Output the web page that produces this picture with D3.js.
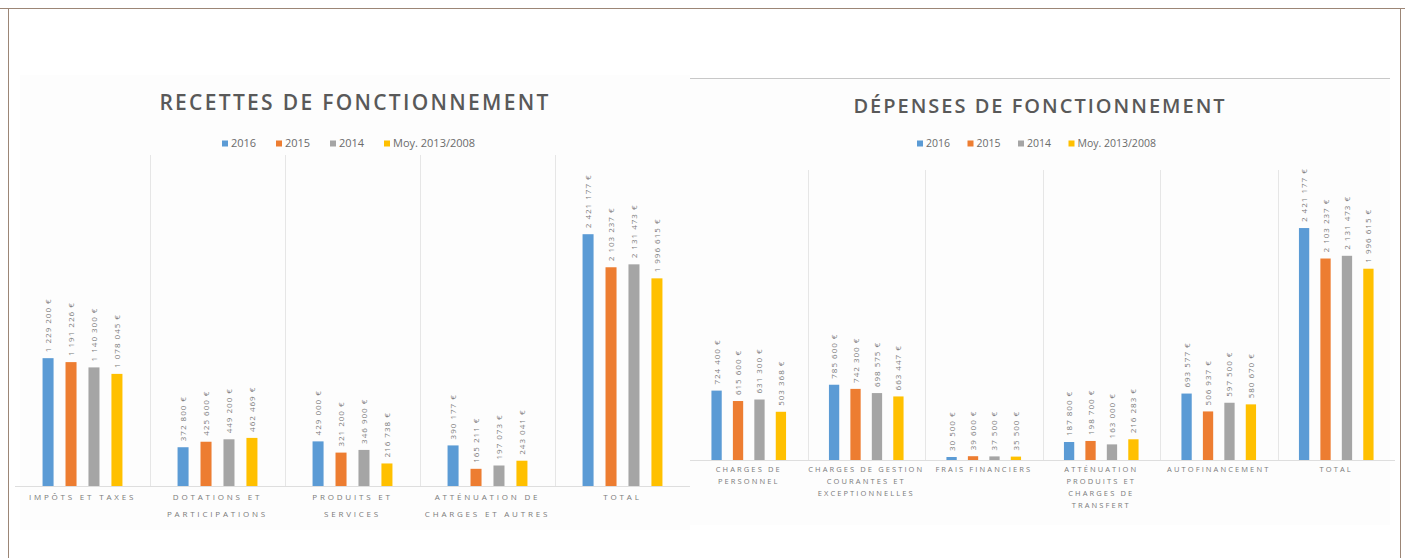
<!DOCTYPE html>
<html><head><meta charset="utf-8">
<script src="https://cdn.jsdelivr.net/npm/d3@7"></script>
<style>
html,body{margin:0;padding:0;background:#fff;}
svg{display:block;}
</style></head>
<body>
<svg id="c" width="1405" height="558"></svg>
<script>
const series = ["2016", "2015", "2014", "Moy. 2013/2008"];
const colors = ["#5B9BD5", "#ED7D31", "#A5A5A5", "#FFC000"];

const recCategories = [["IMPÔTS ET TAXES"], ["DOTATIONS ET", "PARTICIPATIONS"], ["PRODUITS ET", "SERVICES"], ["ATTÉNUATION DE", "CHARGES ET AUTRES"], ["TOTAL"]];
const rec2016 = [1229200, 372800, 429000, 390177, 2421177];
const rec2015 = [1191226, 425600, 321200, 165211, 2103237];
const rec2014 = [1140300, 449200, 346900, 197073, 2131473];
const recMoy  = [1078045, 462469, 216738, 243041, 1996615];

const depCategories = [["CHARGES DE", "PERSONNEL"], ["CHARGES DE GESTION", "COURANTES ET", "EXCEPTIONNELLES"], ["FRAIS FINANCIERS"], ["ATTÉNUATION", "PRODUITS ET", "CHARGES DE", "TRANSFERT"], ["AUTOFINANCEMENT"], ["TOTAL"]];
const dep2016 = [724400, 785600, 30500, 187800, 693577, 2421177];
const dep2015 = [615600, 742300, 39600, 198700, 506937, 2103237];
const dep2014 = [631300, 698575, 37500, 163000, 597500, 2131473];
const depMoy  = [503368, 663447, 35500, 216283, 580670, 1996615];

const fmt = v => d3.format(",")(v).replace(/,/g, " ") + " €";
const svg = d3.select("#c");

// outer frame
svg.append("line").attr("x1",0).attr("x2",1405).attr("y1",8.5).attr("y2",8.5).attr("stroke","#9c8676").attr("stroke-width",1);
svg.append("line").attr("x1",8.5).attr("x2",8.5).attr("y1",8).attr("y2",558).attr("stroke","#9c8676").attr("stroke-width",1);
svg.append("line").attr("x1",1400.5).attr("x2",1400.5).attr("y1",8).attr("y2",558).attr("stroke","#9c8676").attr("stroke-width",1);

function chart(opt) {
  const g = svg.append("g");
  g.append("rect").attr("x",opt.px).attr("y",opt.py).attr("width",opt.pw).attr("height",opt.ph).attr("fill","#fdfdfd");
  if (opt.topLine) g.append("line").attr("x1",opt.px).attr("x2",opt.px+opt.pw).attr("y1",opt.py+0.5).attr("y2",opt.py+0.5).attr("stroke","#c8c8c8");
  g.append("text").attr("x",opt.titleX).attr("y",opt.titleY).attr("text-anchor","middle")
    .attr("font-family","Open Sans").attr("font-weight",600).attr("font-size",opt.titleSize).attr("letter-spacing",opt.titleLs)
    .attr("fill","#595959").text(opt.title);
  // legend
  let lx = opt.legX;
  series.forEach((s,i)=>{
    g.append("rect").attr("x",lx).attr("y",opt.legY-6.5).attr("width",6).attr("height",6).attr("fill",colors[i]);
    g.append("text").attr("x",lx+9).attr("y",opt.legY).attr("font-family","Open Sans").attr("font-size",opt.legSize).attr("fill","#6b6b6b").text(s);
    lx += opt.legStep;
  });
  const x = d3.scaleBand().domain(d3.range(opt.cats.length)).range([opt.x0, opt.x1]).padding(0);
  const xi = d3.scaleBand().domain(d3.range(4)).range([0, x.bandwidth()]).paddingInner(opt.pin).paddingOuter(opt.pout);
  const y = d3.scaleLinear().domain([0, 3000000]).range([opt.base, opt.top]);
  // separators
  x.domain().slice(1).forEach(i=>{
    g.append("line").attr("x1",Math.round(x(i))+0.5).attr("x2",Math.round(x(i))+0.5).attr("y1",opt.sepTop).attr("y2",opt.base)
      .attr("stroke","#e6e6e6");
  });
  g.append("line").attr("x1",opt.x0).attr("x2",opt.x1).attr("y1",opt.base+0.5).attr("y2",opt.base+0.5).attr("stroke","#dedede");
  const vals = opt.vals;
  opt.cats.forEach((c,ci)=>{
    vals.forEach((arr,si)=>{
      const v = arr[ci];
      const bx = x(ci) + xi(si);
      const h = Math.max(opt.base - y(v), 3);
      g.append("rect").attr("x",bx).attr("y",opt.base-h).attr("width",xi.bandwidth()).attr("height",h).attr("fill",colors[si]);
      const tx = bx + xi.bandwidth()/2 + 3;
      const ty = opt.base - h - 6;
      g.append("text").attr("transform",`translate(${tx},${ty}) rotate(-90)`)
        .attr("font-family","Open Sans").attr("font-size",8).attr("letter-spacing",1).attr("fill","#7a7a7a").text(fmt(v));
    });
    c.forEach((line,li)=>{
      g.append("text").attr("x",x(ci)+x.bandwidth()/2).attr("y",opt.catY + li*opt.catDy).attr("text-anchor","middle")
        .attr("font-family","Open Sans").attr("font-size",opt.catSize).attr("letter-spacing",opt.catLs).attr("fill","#7a7a7a").text(line);
    });
  });
}

chart({px:20, py:75, pw:670, ph:455, topLine:false, title:"RECETTES  DE  FONCTIONNEMENT", titleX:355, titleY:110, titleSize:21, titleLs:2.3,
  legX:222, legY:147, legSize:11, legStep:54, cats:recCategories, vals:[rec2016, rec2015, rec2014, recMoy],
  x0:15, x1:690, pin:0.52, pout:1.2, base:486, top:174, sepTop:155, catY:500, catDy:17, catSize:8, catLs:2.8});

chart({px:690, py:78, pw:700, ph:447, topLine:true, title:"DÉPENSES  DE  FONCTIONNEMENT", titleX:1040, titleY:113, titleSize:20, titleLs:2,
  legX:917, legY:147, legSize:10.5, legStep:50.5, cats:depCategories, vals:[dep2016, dep2015, dep2014, depMoy],
  x0:690, x1:1395, pin:0.52, pout:1.0, base:460, top:172.6, sepTop:170, catY:472, catDy:12, catSize:7.5, catLs:2.1});
</script>
</body></html>
